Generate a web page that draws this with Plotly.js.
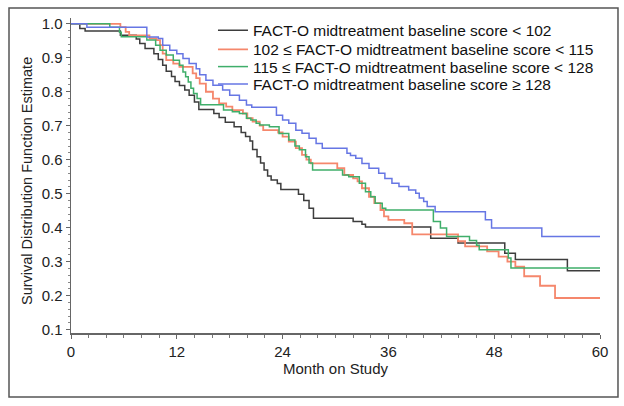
<!DOCTYPE html>
<html>
<head>
<meta charset="utf-8">
<script src="https://cdn.plot.ly/plotly-3.0.1.min.js"></script>
<style>html,body{margin:0;padding:0;background:#fff;}</style>
</head>
<body>
<div id="chart" style="width:624px;height:406px;"></div>
<script>
// Group labels
var groupNames = [
  "FACT-O midtreatment baseline score &lt; 102",
  "102 ≤ FACT-O midtreatment baseline score &lt; 115",
  "115 ≤ FACT-O midtreatment baseline score &lt; 128",
  "FACT-O midtreatment baseline score ≥ 128"
];
var groupColors = ["#3d3d3d", "#f5876c", "#3fae6a", "#6676e4"];
var xTitle = "Month on Study";
var yTitle = "Survival Distribution Function Estimate";

// Kaplan-Meier step data (month, survival after the step)
var monthsLow = [0, 1.0, 1.6, 5.6, 7.4, 7.8, 8.4, 9.4, 9.9, 10.4, 10.8, 11.4, 11.8, 12.3, 12.9, 13.4, 14.0, 14.5, 16.2, 16.8, 17.5, 18.5, 19.3, 19.8, 20.3, 20.6, 21.1, 21.5, 21.9, 22.3, 22.7, 23.4, 23.8, 25.8, 26.4, 27.0, 27.5, 32.0, 33.0, 33.4, 40.8, 43.9, 49.2, 50.4, 56.3, 60];
var survLow   = [1.0, 0.986, 0.979, 0.966, 0.955, 0.942, 0.927, 0.912, 0.895, 0.878, 0.860, 0.845, 0.830, 0.818, 0.805, 0.790, 0.770, 0.748, 0.736, 0.724, 0.710, 0.697, 0.680, 0.668, 0.655, 0.630, 0.609, 0.590, 0.570, 0.552, 0.540, 0.530, 0.512, 0.498, 0.480, 0.457, 0.428, 0.418, 0.410, 0.402, 0.369, 0.355, 0.325, 0.306, 0.273, 0.273];

var monthsMid1 = [0, 5.6, 6.2, 6.6, 8.9, 9.7, 10.1, 10.4, 10.8, 11.6, 12.3, 13.8, 14.2, 14.6, 15.3, 16.1, 16.8, 17.6, 18.3, 19.5, 20.0, 20.6, 21.4, 21.8, 23.5, 24.0, 24.7, 25.5, 26.2, 26.7, 27.2, 30.2, 31.0, 32.0, 32.5, 33.0, 33.8, 34.4, 35.1, 35.5, 36.0, 37.8, 38.7, 43.9, 44.7, 47.2, 48.5, 49.5, 50.4, 51.4, 53.2, 54.9, 60];
var survMid1   = [1.0, 0.99, 0.976, 0.966, 0.957, 0.952, 0.937, 0.912, 0.893, 0.883, 0.873, 0.854, 0.840, 0.824, 0.800, 0.780, 0.766, 0.756, 0.746, 0.736, 0.722, 0.712, 0.700, 0.687, 0.680, 0.668, 0.653, 0.634, 0.614, 0.600, 0.589, 0.575, 0.555, 0.545, 0.536, 0.516, 0.491, 0.472, 0.452, 0.433, 0.423, 0.413, 0.380, 0.360, 0.345, 0.330, 0.315, 0.300, 0.285, 0.257, 0.229, 0.193, 0.193];

var monthsMid2 = [0, 4.4, 5.5, 5.7, 8.6, 9.6, 10.1, 10.8, 11.6, 12.3, 12.7, 13.0, 13.3, 13.6, 13.9, 14.3, 14.7, 17.3, 18.3, 19.1, 19.9, 20.4, 21.0, 21.4, 22.5, 23.6, 24.7, 25.4, 25.9, 26.6, 27.0, 27.4, 30.8, 31.5, 32.7, 33.4, 34.0, 34.5, 35.3, 35.7, 41.1, 41.9, 42.6, 45.2, 46.0, 46.3, 49.6, 49.9, 60];
var survMid2   = [1.0, 0.99, 0.975, 0.962, 0.952, 0.937, 0.922, 0.908, 0.893, 0.878, 0.858, 0.844, 0.829, 0.810, 0.795, 0.780, 0.762, 0.746, 0.741, 0.736, 0.722, 0.717, 0.707, 0.702, 0.697, 0.677, 0.658, 0.640, 0.629, 0.609, 0.590, 0.570, 0.555, 0.550, 0.531, 0.506, 0.491, 0.472, 0.457, 0.452, 0.418, 0.399, 0.374, 0.362, 0.348, 0.335, 0.311, 0.281, 0.281];

var monthsHigh = [0, 1.8, 8.6, 9.9, 10.4, 11.2, 12.0, 12.7, 13.4, 14.2, 14.6, 15.3, 16.1, 17.2, 18.0, 19.1, 19.9, 20.5, 23.3, 24.0, 24.7, 25.5, 26.2, 27.0, 27.8, 28.5, 31.3, 31.7, 32.3, 33.0, 33.8, 34.9, 35.6, 36.4, 37.2, 38.3, 39.1, 39.5, 40.0, 40.4, 41.3, 47.0, 47.7, 53.4, 60];
var survHigh   = [1.0, 0.99, 0.961, 0.957, 0.937, 0.922, 0.912, 0.898, 0.883, 0.868, 0.850, 0.834, 0.819, 0.805, 0.790, 0.775, 0.761, 0.754, 0.731, 0.717, 0.707, 0.687, 0.678, 0.663, 0.648, 0.634, 0.619, 0.612, 0.604, 0.589, 0.575, 0.560, 0.545, 0.531, 0.521, 0.511, 0.501, 0.487, 0.477, 0.462, 0.447, 0.423, 0.399, 0.374, 0.374];

var xTicks = [0, 12, 24, 36, 48, 60];
var yTicks = [0.1, 0.2, 0.3, 0.4, 0.5, 0.6, 0.7, 0.8, 0.9, 1.0];

var seriesX = [monthsLow, monthsMid1, monthsMid2, monthsHigh];
var seriesY = [survLow, survMid1, survMid2, survHigh];
var legendIds = ["legend", "legend2", "legend3", "legend4"];
var legendRowY = [0.960, 0.899, 0.8444, 0.7895];

var FONT = "Liberation Sans, Arial, Helvetica, sans-serif";

var traces = seriesX.map(function (xs, i) {
  return {
    type: "scatter",
    mode: "lines",
    x: xs,
    y: seriesY[i],
    name: groupNames[i],
    legend: legendIds[i],
    line: { shape: "hv", color: groupColors[i], width: i === 1 ? 1.8 : 1.5 },
    hoverinfo: "skip"
  };
});

var layout = {
  width: 624,
  height: 406,
  margin: { l: 71, r: 24, t: 18, b: 73, autoexpand: false },
  paper_bgcolor: "#ffffff",
  plot_bgcolor: "#ffffff",
  font: { family: FONT, color: "#222" },
  showlegend: true,
  xaxis: {
    range: [0, 60],
    tickvals: xTicks,
    ticktext: xTicks.map(String),
    showgrid: false,
    zeroline: false,
    showline: true,
    linecolor: "#666",
    linewidth: 1.5,
    ticks: "outside",
    ticklen: 4,
    tickwidth: 1,
    tickcolor: "#666",
    minor: { dtick: 2, tick0: 0, ticks: "outside", ticklen: 3, tickcolor: "#777", showgrid: false },
    tickfont: { size: 15, color: "#222" },
    title: { text: xTitle, font: { size: 15, color: "#222" }, standoff: 3 }
  },
  yaxis: {
    range: [0.09, 1.017],
    tickvals: yTicks,
    ticktext: yTicks.map(function (v) { return v.toFixed(1); }),
    showgrid: false,
    zeroline: false,
    showline: true,
    linecolor: "#666",
    linewidth: 1.5,
    ticks: "outside",
    ticklen: 4,
    tickwidth: 1,
    tickcolor: "#666",
    minor: { dtick: 0.02, tick0: 0.1, ticks: "outside", ticklen: 2, tickcolor: "#888", showgrid: false },
    tickfont: { size: 15, color: "#222" }
  },
  annotations: [{
    text: yTitle, xref: "paper", yref: "paper",
    x: -0.0832, y: 0.4825, xanchor: "center", yanchor: "middle",
    textangle: -90, showarrow: false,
    font: { family: FONT, size: 14.5, color: "#222" }
  }],
  shapes: [{
    type: "rect", xref: "paper", yref: "paper",
    x0: -0.1172, x1: 1.034, y0: -0.2032, y1: 1.0317,
    line: { color: "#555", width: 1.5 }, fillcolor: "rgba(0,0,0,0)", layer: "below"
  }]
};

legendIds.forEach(function (id, i) {
  layout[id] = {
    x: 0.2684, xanchor: "left",
    y: legendRowY[i], yanchor: "middle",
    bgcolor: "rgba(0,0,0,0)",
    borderwidth: 0,
    font: { family: FONT, size: 15.5, color: "#111" }
  };
});

Plotly.newPlot("chart", traces, layout, { displayModeBar: false, staticPlot: true });
</script>
</body>
</html>
